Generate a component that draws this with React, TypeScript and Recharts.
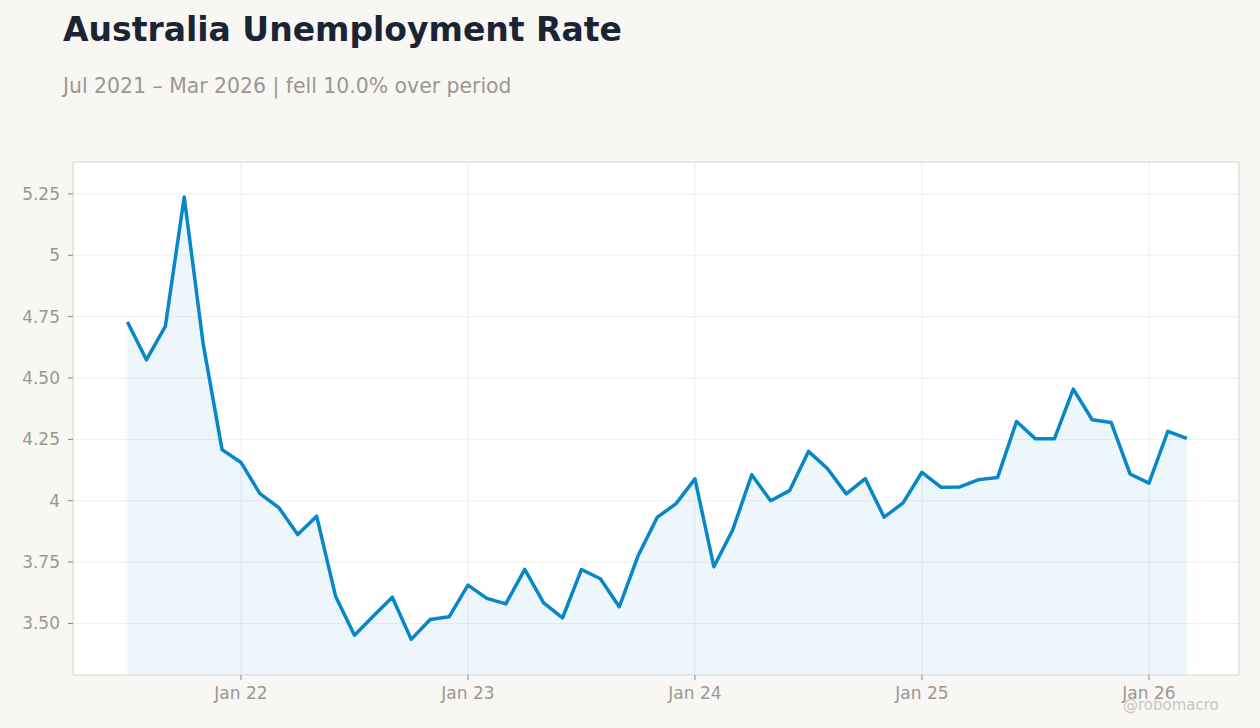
import {
  ComposedChart, Area, XAxis, YAxis, CartesianGrid, ReferenceArea,
} from 'recharts';

// monthly readings, Jul 2021 .. Mar 2026
const MONTHS = [
  'Jul 21', 'Aug 21', 'Sep 21', 'Oct 21', 'Nov 21', 'Dec 21',
  'Jan 22', 'Feb 22', 'Mar 22', 'Apr 22', 'May 22', 'Jun 22',
  'Jul 22', 'Aug 22', 'Sep 22', 'Oct 22', 'Nov 22', 'Dec 22',
  'Jan 23', 'Feb 23', 'Mar 23', 'Apr 23', 'May 23', 'Jun 23',
  'Jul 23', 'Aug 23', 'Sep 23', 'Oct 23', 'Nov 23', 'Dec 23',
  'Jan 24', 'Feb 24', 'Mar 24', 'Apr 24', 'May 24', 'Jun 24',
  'Jul 24', 'Aug 24', 'Sep 24', 'Oct 24', 'Nov 24', 'Dec 24',
  'Jan 25', 'Feb 25', 'Mar 25', 'Apr 25', 'May 25', 'Jun 25',
  'Jul 25', 'Aug 25', 'Sep 25', 'Oct 25', 'Nov 25', 'Dec 25',
  'Jan 26', 'Feb 26', 'Mar 26',
];

const RATE = [
  4.728, 4.574, 4.71, 5.237, 4.64, 4.208,
  4.156, 4.029, 3.972, 3.862, 3.937, 3.611,
  3.452, 3.53, 3.607, 3.435, 3.516, 3.527,
  3.656, 3.602, 3.58, 3.72, 3.584, 3.523,
  3.72, 3.682, 3.568, 3.777, 3.932, 3.988,
  4.089, 3.731, 3.882, 4.106, 4.0, 4.041,
  4.201, 4.131, 4.028, 4.09, 3.933, 3.991,
  4.116, 4.055, 4.056, 4.086, 4.095, 4.323,
  4.252, 4.252, 4.455, 4.33, 4.319, 4.109,
  4.072, 4.283, 4.254,
];

const Y_TICKS = [3.5, 3.75, 4, 4.25, 4.5, 4.75, 5, 5.25];
const Y_LABELS = ['3.50', '3.75', '4', '4.25', '4.50', '4.75', '5', '5.25'];
const X_TICKS = [6, 18, 30, 42, 54];
const X_LABELS = ['Jan 22', 'Jan 23', 'Jan 24', 'Jan 25', 'Jan 26'];

const X_DOMAIN: [number, number] = [-2.88, 58.76];
const Y_DOMAIN: [number, number] = [3.29, 5.38];

const data = MONTHS.map((m, i) => ({ i, month: m, rate: RATE[i] }));

const FONT = '"DejaVu Sans", Verdana, sans-serif';
const LINE = '#0786c8';

export default function App() {
  return (
    <div style={{ position: 'relative', width: 1260, height: 728, background: '#f8f7f4', fontFamily: FONT, overflow: 'hidden' }}>
      <style>{'body{margin:0}'}</style>
      <div style={{ position: 'absolute', left: 63, top: 10, fontSize: 33, fontWeight: 700, color: '#1b2433', whiteSpace: 'nowrap' }}>
        Australia Unemployment Rate
      </div>
      <div style={{ position: 'absolute', left: 63, top: 74, fontSize: 20.4, color: '#9a9792', whiteSpace: 'nowrap' }}>
        Jul 2021 – Mar 2026 | fell 10.0% over period
      </div>

      <ComposedChart
        width={1260}
        height={728}
        data={data}
        margin={{ top: 162, right: 21, bottom: 23, left: 0 }}
        style={{ position: 'absolute', left: 0, top: 0 }}
      >
        <CartesianGrid stroke="#efefef" fill="#ffffff" />
        <XAxis
          dataKey="i"
          type="number"
          domain={X_DOMAIN}
          allowDataOverflow
          ticks={X_TICKS}
          tickFormatter={(v: number) => X_LABELS[X_TICKS.indexOf(v)]}
          height={30}
          axisLine={false}
          tickLine={{ stroke: '#8a8782' }}
          tickSize={5}
          tickMargin={7}
          tick={{ fontSize: 17, fill: '#9a9792', fontFamily: FONT }}
        />
        <YAxis
          type="number"
          domain={Y_DOMAIN}
          allowDataOverflow
          ticks={Y_TICKS}
          tickFormatter={(v: number) => Y_LABELS[Y_TICKS.indexOf(v)]}
          width={73}
          axisLine={false}
          tickLine={{ stroke: '#8a8782' }}
          tickSize={5}
          tickMargin={8}
          tick={{ fontSize: 17, fill: '#9a9792', fontFamily: FONT }}
        />
        <Area
          type="linear"
          dataKey="rate"
          stroke={LINE}
          strokeWidth={3.5}
          strokeLinejoin="round"
          fill={LINE}
          fillOpacity={0.08}
          baseValue={Y_DOMAIN[0]}
          dot={false}
          activeDot={false}
          isAnimationActive={false}
        />
        <ReferenceArea
          x1={X_DOMAIN[0]}
          x2={X_DOMAIN[1]}
          y1={Y_DOMAIN[0]}
          y2={Y_DOMAIN[1]}
          fill="none"
          fillOpacity={0}
          stroke="#dedad3"
          strokeWidth={1}
        />
      </ComposedChart>

      <div style={{ position: 'absolute', left: 1123, top: 696, fontSize: 15, color: '#c9c6c1', whiteSpace: 'nowrap' }}>
        @robomacro
      </div>
    </div>
  );
}
